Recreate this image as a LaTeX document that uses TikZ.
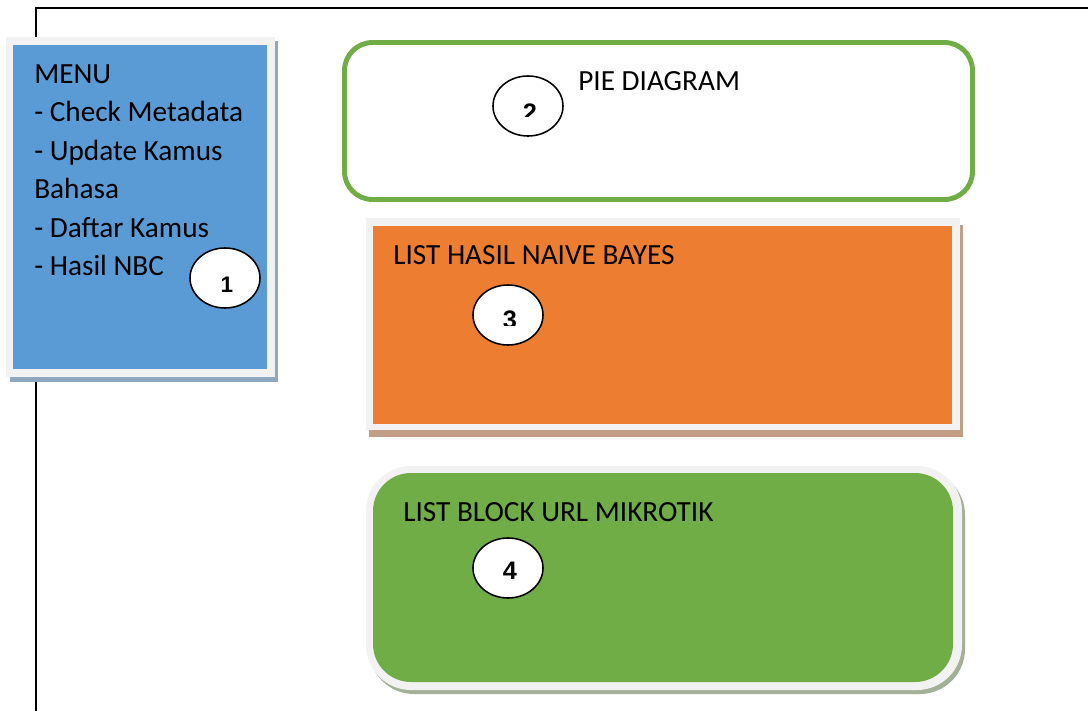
\documentclass[tikz,border=0pt]{standalone}
\usepackage{fontspec}
\setmainfont{Carlito}
\newfontfamily\digitfont{Liberation Sans}
\usepackage{xcolor}
\usepackage{tikz}
\usetikzlibrary{shapes.geometric, positioning, calc}
\definecolor{menublue}{HTML}{5B9BD5}
\definecolor{menushadow}{HTML}{8FA7BF}
\definecolor{paneorange}{HTML}{ED7D31}
\definecolor{orangeshadow}{HTML}{C39E86}
\definecolor{panegreen}{HTML}{70AD47}
\definecolor{greenshadow}{HTML}{A2B096}
\definecolor{paneframe}{HTML}{F2F2F2}
\tikzset{
  frameline/.style={line width=1.2pt, black},
  paneltext/.style={anchor=north west, inner sep=0pt, font=\fontsize{20.8}{27.4}\selectfont, align=left},
  badge/.style={ellipse, draw=black, line width=1.1pt, fill=white, minimum width=1.75cm, minimum height=1.5cm, inner sep=0pt},
  digit/.style={anchor=north, inner sep=0pt, font=\digitfont\bfseries\fontsize{18}{18}\selectfont}
}

\begin{document}
\begin{tikzpicture}[x=0.025cm, y=-0.025cm]
\useasboundingbox (0,0) rectangle (1088,711);
% Page frame
\coordinate (frameend) at (1088,8);
\coordinate (framecorner) at (36,8);
\coordinate (framebottom) at (36,711);
\draw[frameline] (frameend) -- (framecorner) -- (framebottom);

% Box 1: menu
\fill[menushadow] (10,41) rectangle (278,382);
\fill[paneframe] (6,37) rectangle (275,377);
\fill[menublue] (13,45) rectangle (267,369);
\node[paneltext] (menu) at (34,64) {MENU\\- Check Metadata\\- Update Kamus\\Bahasa\\- Daftar Kamus\\- Hasil NBC};
\node[badge] (b1) at (225,278) {};
\node[digit, font=\digitfont\bfseries\fontsize{16}{16}\selectfont] (d1) at (227,277) {1};

% Box 2: pie diagram
\draw[panegreen, line width=3.5pt, rounded corners=0.7cm] (344.5,42.5) rectangle (972.5,199.5);
\node[paneltext] (pie) at (578,71) {PIE DIAGRAM};
\node[badge] (b2) at (528,106) {};
\begin{scope}
\clip (490,80) rectangle (570,116);
\node[digit] (d2) at (530,104) {2};
\end{scope}

% Box 3: naive bayes list
\fill[orangeshadow] (369,225) rectangle (963,437);
\fill[paneframe] (366,218) rectangle (960,430);
\fill[paneorange] (373,226) rectangle (952,424);
\node[paneltext] (bayes) at (393,245) {LIST HASIL NAIVE BAYES};
\node[badge] (b3) at (508,315) {};
\begin{scope}
\clip (470,290) rectangle (550,325);
\node[digit] (d3) at (510,311) {3};
\end{scope}

% Box 4: mikrotik block list
\fill[greenshadow, rounded corners=1.125cm] (369,470) rectangle (965,694);
\fill[paneframe, rounded corners=1.125cm] (366,466) rectangle (962,690);
\fill[panegreen, rounded corners=0.95cm] (373,473) rectangle (953,682);
\node[paneltext] (mikrotik) at (403,502) {LIST BLOCK URL MIKROTIK};
\node[badge] (b4) at (508,568) {};
\begin{scope}
\clip (470,540) rectangle (550,578);
\node[digit] (d4) at (510,562) {4};
\end{scope}
\end{tikzpicture}
\end{document}
